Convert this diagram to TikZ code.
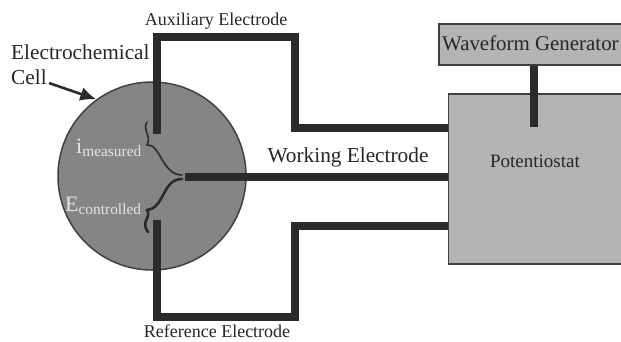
\documentclass[tikz,border=0pt]{standalone}
\usepackage{fontspec}
\setmainfont{Liberation Serif}
\usepackage{tikz}
\usetikzlibrary{arrows.meta,positioning}
\definecolor{cellgray}{HTML}{858585}
\definecolor{boxgray}{HTML}{B4B4B4}
\definecolor{wiredark}{HTML}{2B2B2B}
\tikzset{
  lbl/.style={font=\fontsize{18}{25}\selectfont, text=black!85, inner sep=0pt, align=left},
  lblbig/.style={lbl, font=\fontsize{21.3}{25}\selectfont},
  lblwhite/.style={font=\fontsize{22}{25}\selectfont, text=white!90!black, inner sep=0pt},
  panel/.style={draw=wiredark!90, line width=1.5pt, fill=boxgray, inner sep=0pt},
  cell/.style={draw=wiredark!90, circle, line width=1.5pt, fill=cellgray, inner sep=0pt, minimum size=188pt},
  lead/.style={draw=wiredark, line width=8pt, line join=miter},
  thin/.style={draw=wiredark, line width=1.6pt, line cap=round},
  arr/.style={-{Latex[length=16pt,width=14pt]}, draw=wiredark, line width=2.6pt}
}
\begin{document}
\begin{tikzpicture}[x=1pt,y=-1pt]
\clip (0,0) rectangle (621,341);
\fill[white] (0,0) rectangle (621,341);
% cell and boxes
\node[cell] (cell) at (152,176) {};
\node[panel, minimum width=186pt, minimum height=41pt, anchor=north west] (wave) at (438,23) {};
\node[panel, minimum width=173pt, minimum height=170pt, anchor=north west] (pot) at (447.5,93) {};
\node[lbl, anchor=center] (potlabel) at (535,161) {\fontsize{19}{22}\selectfont Potentiostat};
\node[lblbig, anchor=west, font=\fontsize{20.9}{25}\selectfont] (wavelabel) at (442,43.5) {Waveform Generator};
% labels
\node[lbl, anchor=center] (auxlabel) at (216,21) {Auxiliary Electrode};
\node[lblbig, anchor=center] (worklabel) at (348,157) {Working Electrode};
\node[lbl, anchor=center] (reflabel) at (217,331.5) {Reference Electrode};
\node[lblbig, anchor=north west] (celllabel) at (11,45) {Electrochemical\\Cell};
\node[lblwhite, anchor=west] (ilabel) at (76,148) {i\textsubscript{measured}};
\node[lblwhite, anchor=west] (elabel) at (65,206) {E\textsubscript{controlled}};
% leads
\coordinate (auxend) at (157,134);
\coordinate (refend) at (157,220);
\coordinate (workend) at (185,176.5);
\draw[lead] (auxend) |- (295,37) |- (pot.west |- 0,128);
\draw[lead] (workend) -- (pot.west |- workend);
\draw[lead] (refend) |- (295,317) |- (pot.west |- 0,226);
\draw[lead] (wave.south -| 534,0) -- (534,127);
% wires in the cell
\coordinate (wirea) at (147,122);
\coordinate (wireb) at (147,145);
\coordinate (wirec) at (182,175);
\coordinate (wired) at (182,179);
\coordinate (wiree) at (147,210);
\coordinate (wiref) at (148,232);
\draw[thin] (wirea) .. controls (142,130) and (152,136) .. (wireb);
\draw[thin] (wireb) .. controls (160,143) and (162,175) .. (wirec);
\draw[thin, line width=2.6pt] (wired) .. controls (162,179) and (165,208) .. (wiree);
\draw[thin, line width=2.6pt] (wiree) .. controls (152,217) and (140,222) .. (wiref);
% arrow to the cell
\coordinate (arrowtail) at (49,83);
\draw[arr] (arrowtail) -- (cell.126);
\end{tikzpicture}
\end{document}
